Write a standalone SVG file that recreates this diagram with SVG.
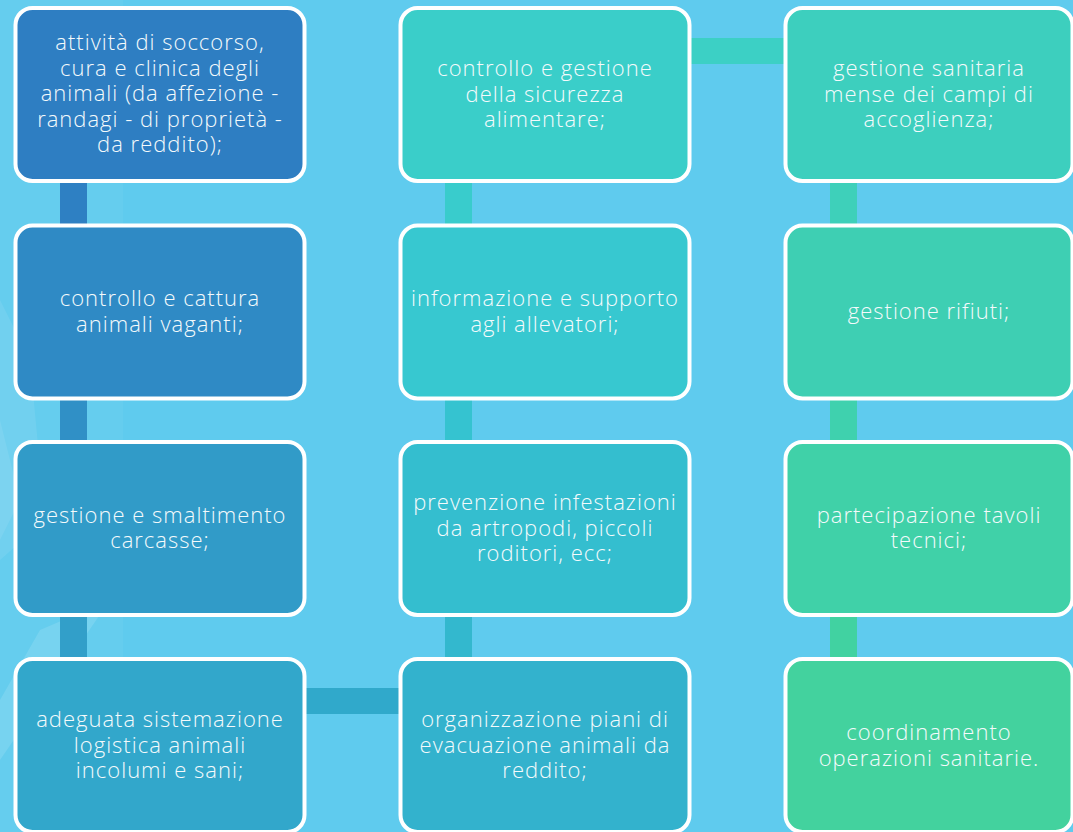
<svg xmlns="http://www.w3.org/2000/svg" width="1073" height="832" viewBox="0 0 1073 832">
<style>
.box{stroke:#ffffff;stroke-width:4}
.t{font-family:"Open Sans","Noto Sans","Liberation Sans",sans-serif;font-size:22px;font-weight:300;fill:#f4fafc;text-anchor:middle;letter-spacing:1px}
</style>
<rect width="1073" height="832" fill="#5fcbee"/>
<g id="background">
<polygon points="0,0 123,0 123,832 0,832" fill="#ffffff" opacity="0.04"/>
<polygon points="0,300 30,360 45,520 0,560" fill="#ffffff" opacity="0.08"/>
<polygon points="0,700 40,630 110,600 0,760" fill="#ffffff" opacity="0.12"/>
<polygon points="0,420 20,500 0,540" fill="#ffffff" opacity="0.08"/>
</g>
<g id="connectors">
<rect x="60" y="180" width="27" height="50" fill="#2e80c3"/>
<rect x="60" y="396" width="27" height="50" fill="#3090c6"/>
<rect x="60" y="613" width="27" height="50" fill="#329fc9"/>
<rect x="302" y="688" width="100" height="26" fill="#30a9cb"/>
<rect x="445" y="613" width="27" height="50" fill="#33b8ce"/>
<rect x="445" y="396" width="27" height="50" fill="#35c3d0"/>
<rect x="445" y="180" width="27" height="50" fill="#39cccc"/>
<rect x="687" y="38" width="100" height="26" fill="#3cd0c5"/>
<rect x="830" y="180" width="27" height="50" fill="#3ed0ba"/>
<rect x="830" y="396" width="27" height="50" fill="#3fd1ae"/>
<rect x="830" y="613" width="27" height="50" fill="#41d2a1"/>
</g>
<g id="n1">
<rect class="box" x="15.5" y="8" width="289" height="173" rx="17" fill="#2e7ec2"/>
<text class="t"><tspan x="160" y="50">attività di soccorso,</tspan><tspan x="160" y="75.5">cura e clinica degli</tspan><tspan x="160" y="101">animali (da affezione -</tspan><tspan x="160" y="126.5">randagi - di proprietà -</tspan><tspan x="160" y="152">da reddito);</tspan></text>
</g>
<g id="n2">
<rect class="box" x="15.5" y="225.5" width="289" height="173" rx="17" fill="#2f8ac5"/>
<text class="t"><tspan x="160" y="306">controllo e cattura</tspan><tspan x="160" y="331.5">animali vaganti;</tspan></text>
</g>
<g id="n3">
<rect class="box" x="15.5" y="442" width="289" height="173" rx="17" fill="#319bc8"/>
<text class="t"><tspan x="160" y="522.5">gestione e smaltimento</tspan><tspan x="160" y="548">carcasse;</tspan></text>
</g>
<g id="n4">
<rect class="box" x="15.5" y="659" width="289" height="173" rx="17" fill="#32a7cb"/>
<text class="t"><tspan x="160" y="727">adeguata sistemazione</tspan><tspan x="160" y="752.5">logistica animali</tspan><tspan x="160" y="778">incolumi e sani;</tspan></text>
</g>
<g id="n5">
<rect class="box" x="400.5" y="8" width="289" height="173" rx="17" fill="#3acec9"/>
<text class="t"><tspan x="545" y="76">controllo e gestione</tspan><tspan x="545" y="101.5">della sicurezza</tspan><tspan x="545" y="127">alimentare;</tspan></text>
</g>
<g id="n6">
<rect class="box" x="400.5" y="225.5" width="289" height="173" rx="17" fill="#37c8d0"/>
<text class="t"><tspan x="545" y="306">informazione e supporto</tspan><tspan x="545" y="331.5">agli allevatori;</tspan></text>
</g>
<g id="n7">
<rect class="box" x="400.5" y="442" width="289" height="173" rx="17" fill="#34becf"/>
<text class="t"><tspan x="545" y="510">prevenzione infestazioni</tspan><tspan x="545" y="535.5">da artropodi, piccoli</tspan><tspan x="545" y="561">roditori, ecc;</tspan></text>
</g>
<g id="n8">
<rect class="box" x="400.5" y="659" width="289" height="173" rx="17" fill="#33b2cd"/>
<text class="t"><tspan x="545" y="727">organizzazione piani di</tspan><tspan x="545" y="752.5">evacuazione animali da</tspan><tspan x="545" y="778">reddito;</tspan></text>
</g>
<g id="n9">
<rect class="box" x="785.5" y="8" width="287" height="173" rx="17" fill="#3dcfbe"/>
<text class="t"><tspan x="929" y="76">gestione sanitaria</tspan><tspan x="929" y="101.5">mense dei campi di</tspan><tspan x="929" y="127">accoglienza;</tspan></text>
</g>
<g id="n10">
<rect class="box" x="785.5" y="225.5" width="287" height="173" rx="17" fill="#3ecfb3"/>
<text class="t"><tspan x="929" y="319">gestione rifiuti;</tspan></text>
</g>
<g id="n11">
<rect class="box" x="785.5" y="442" width="287" height="173" rx="17" fill="#40d1a8"/>
<text class="t"><tspan x="929" y="522.5">partecipazione tavoli</tspan><tspan x="929" y="548">tecnici;</tspan></text>
</g>
<g id="n12">
<rect class="box" x="785.5" y="659" width="287" height="173" rx="17" fill="#43d29e"/>
<text class="t"><tspan x="929" y="740">coordinamento</tspan><tspan x="929" y="765.5">operazioni sanitarie.</tspan></text>
</g>
</svg>
